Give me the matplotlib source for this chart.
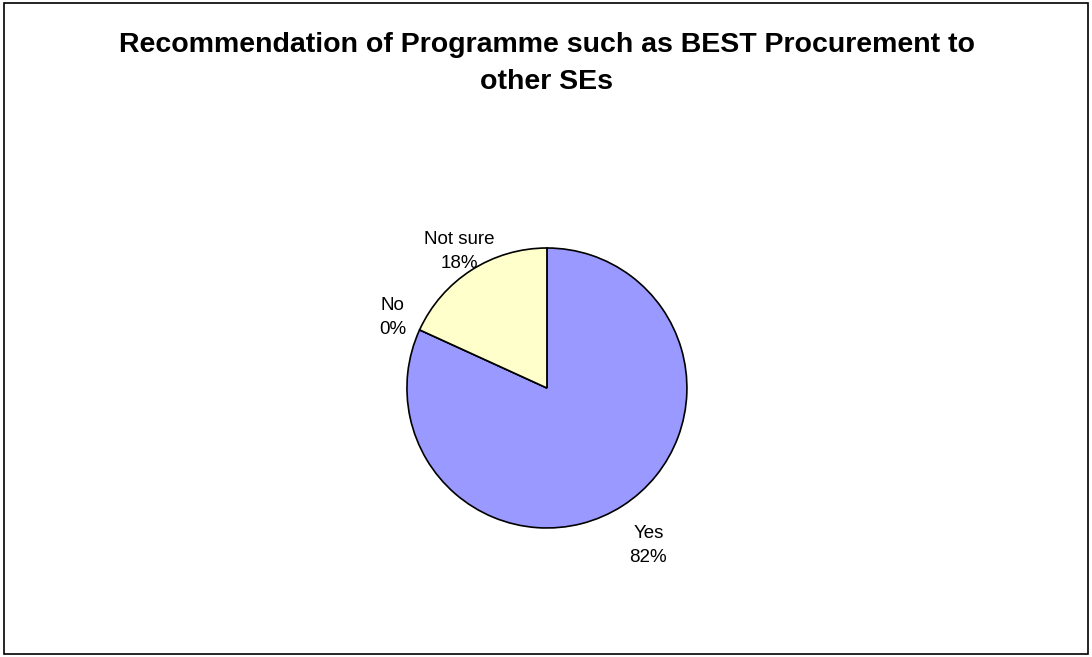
import matplotlib.pyplot as plt
from matplotlib.patches import Rectangle
import numpy as np

plt.rcParams['font.family'] = ['Liberation Sans', 'DejaVu Sans']

# survey answers (counts), drawn clockwise from 12 o'clock
categories = ["Yes", "No", "Not sure"]
counts = [9, 0, 2]
colors = ["#9999FF", "#993366", "#FFFFCC"]
label_dist = [1.34, 1.21, 1.16]

title = "Recommendation of Programme such as BEST Procurement to\nother SEs"

fig = plt.figure(figsize=(10.92, 6.57), dpi=100)

# chart area border
fig.patches.append(Rectangle((4 / 1092, 3 / 657), 1084 / 1092, 651 / 657,
                             transform=fig.transFigure, fill=False,
                             edgecolor="black", linewidth=1.2))

fig.text(547 / 1092, 1 - 63.5 / 657, title, ha="center", va="center",
         fontsize=20.5, fontweight="bold", linespacing=1.57)

ax = fig.add_axes([0.2701, 0.0259, 0.4615, 0.7671])
wedges, _ = ax.pie(counts, colors=colors, startangle=90, counterclock=False,
                   wedgeprops=dict(edgecolor="black", linewidth=1.2))
ax.set_xlim(-1.8, 1.8)
ax.set_ylim(-1.8, 1.8)
ax.set_aspect("equal")
ax.axis("off")

total = sum(counts)
for w, cat, c, d in zip(wedges, categories, counts, label_dist):
    mid = np.deg2rad((w.theta1 + w.theta2) / 2)
    pct = round(100 * c / total)
    ax.text(d * np.cos(mid), d * np.sin(mid), f"{cat}\n{pct}%",
            ha="center", va="center", fontsize=13.5, linespacing=1.55)

fig.savefig("out.png", dpi=100)
